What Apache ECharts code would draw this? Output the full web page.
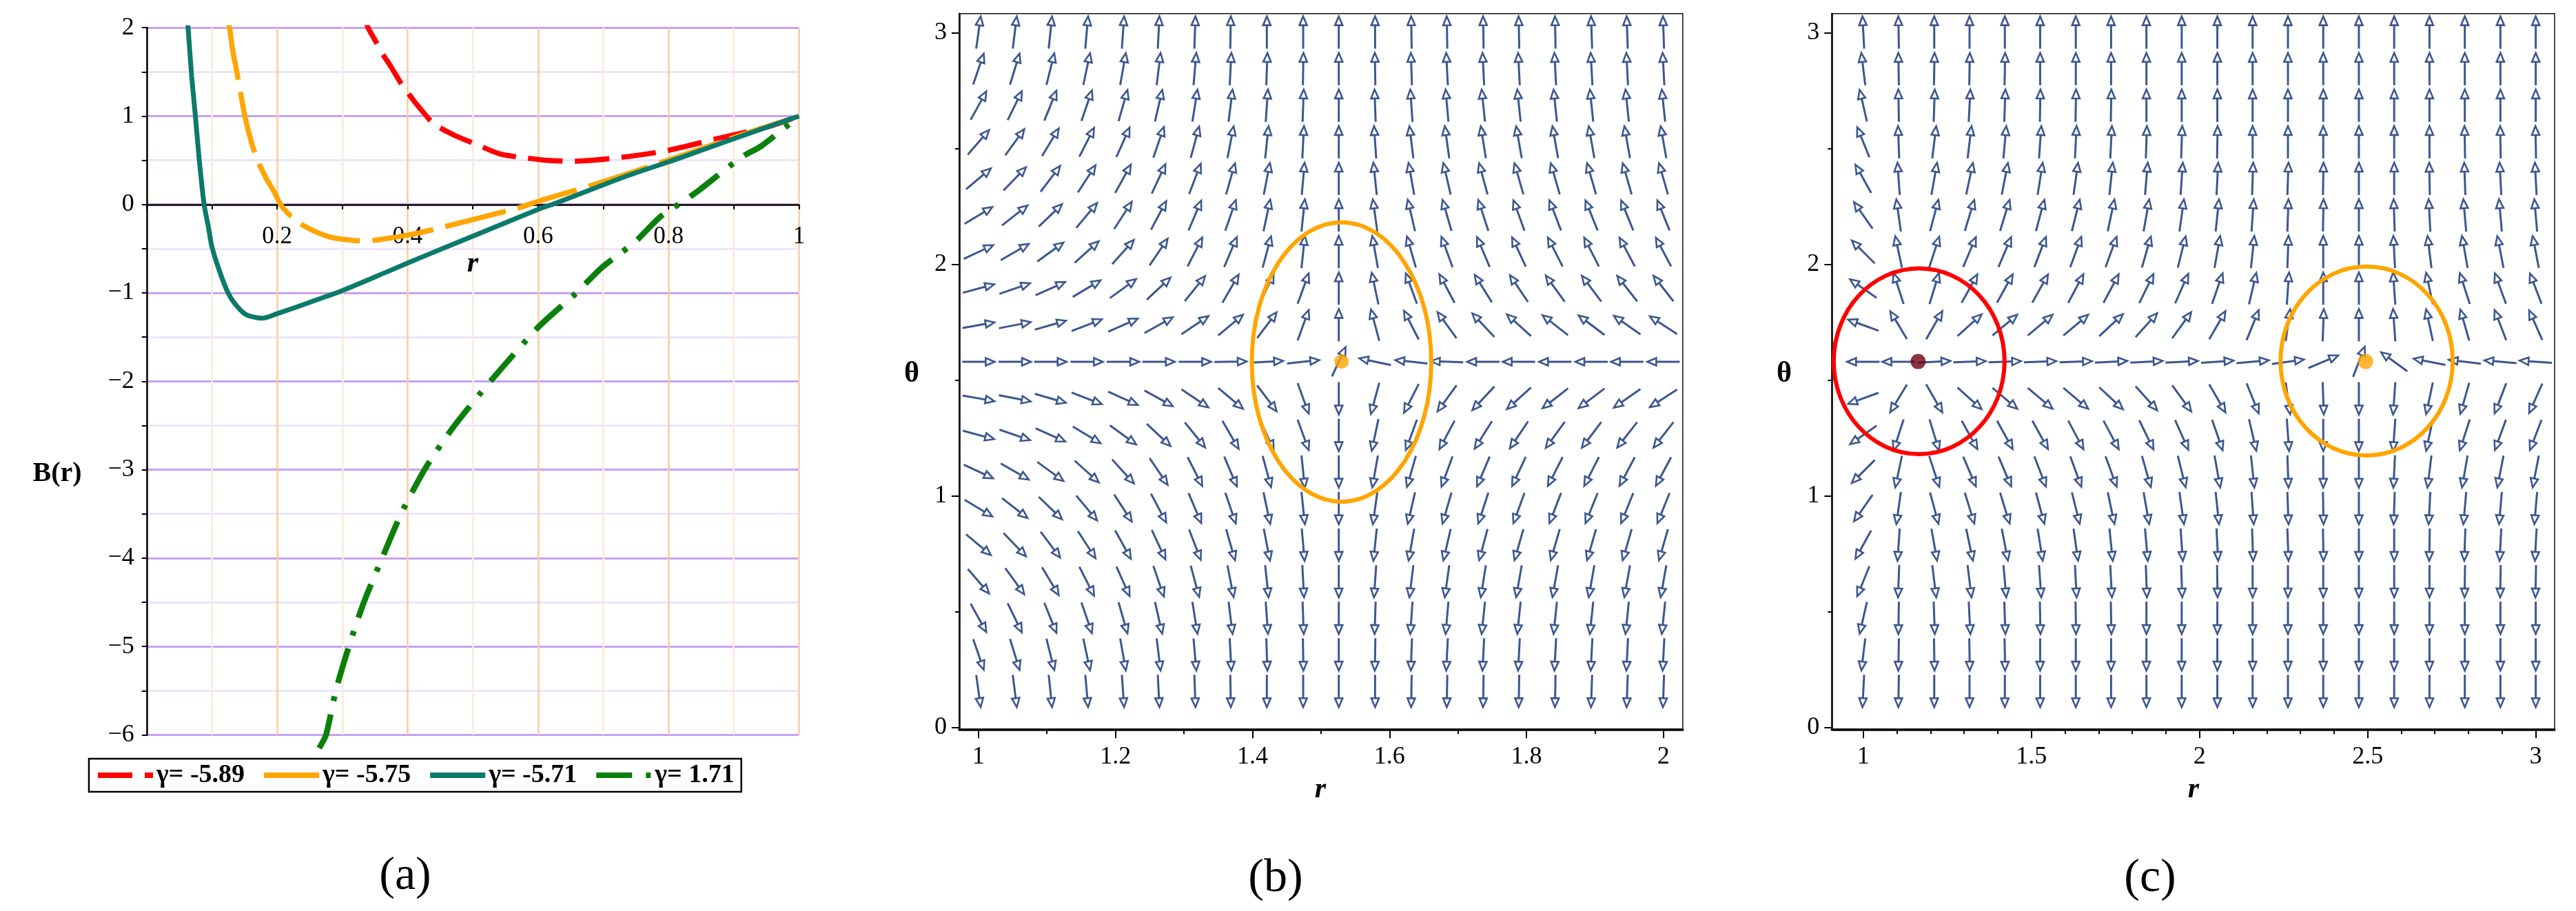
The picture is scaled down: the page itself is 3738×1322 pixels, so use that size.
<!DOCTYPE html>
<html><head><meta charset="utf-8">
<script src="https://cdn.jsdelivr.net/npm/echarts@6/dist/echarts.min.js"></script>
<style>html,body{margin:0;padding:0;background:#fff}#c{width:3738px;height:1322px}</style>
</head><body><div id="c"></div>
<script>
// ---------- Panel (a): B(r) curves ----------
const seriesNames = ['γ= -5.89', 'γ= -5.75', 'γ= -5.71', 'γ= 1.71'];
const redR = [0.331,0.3357,0.3393,0.35,0.362,0.3745,0.39,0.41,0.425,0.4404,0.473,0.5,0.5417,0.58,0.6145,0.651,0.712,0.7927,0.8738,0.9547,1.0];
const redB = [2.17,2.08,2.0,1.86,1.70,1.559,1.37,1.169,1.035,0.91,0.779,0.697,0.572,0.528,0.499,0.489,0.52,0.603,0.743,0.884,1.0];
const orangeR = [0.1235,0.127,0.132,0.1382,0.1506,0.16,0.17,0.183,0.1964,0.2053,0.218,0.2335,0.255,0.279,0.30,0.325,0.35,0.3675,0.392,0.43,0.5012,0.5699,0.6016,0.65,0.7117,0.817,0.9142,1.0];
const orangeB = [2.1,2.0,1.74,1.5,1.0,0.72,0.5,0.30,0.13,0.0,-0.11,-0.207,-0.295,-0.363,-0.392,-0.41,-0.403,-0.385,-0.358,-0.30,-0.168,-0.039,0.039,0.145,0.286,0.546,0.793,1.0];
const tealR = [0.0622,0.0635,0.069,0.0747,0.0807,0.0881,0.0945,0.1001,0.1125,0.1248,0.135,0.15,0.162,0.177,0.2,0.23,0.2758,0.3,0.3675,0.43,0.5012,0.6016,0.6267,0.732,0.817,0.914,1.0];
const tealB = [2.1,2.0,1.45,1.0,0.5,0.0,-0.25,-0.48,-0.77,-1.0,-1.12,-1.235,-1.27,-1.287,-1.235,-1.16,-1.039,-0.974,-0.765,-0.57,-0.355,-0.051,0.013,0.312,0.525,0.78,1.0];
const greenR = [0.2645,0.275,0.29,0.31,0.333,0.361,0.39,0.426,0.47,0.527,0.5983,0.6308,0.655,0.6956,0.72,0.748,0.7867,0.815,0.8434,0.886,0.9142,0.9426,1.0];
const greenB = [-6.15,-6.0,-5.5,-5.0,-4.5,-4.0,-3.5,-3.0,-2.52,-2.0,-1.403,-1.182,-1.026,-0.727,-0.585,-0.429,-0.143,0.0,0.143,0.39,0.546,0.663,1.0];

// ---------- Panels (b), (c): vector fields ----------
const thetaRows = [3.001,2.843,2.685,2.527,2.369,2.211,2.053,1.895,1.737,1.579,1.421,1.263,1.105,0.947,0.789,0.631,0.473,0.315,0.157];
const bCols = [1.000,1.053,1.105,1.158,1.211,1.263,1.316,1.368,1.421,1.474,1.526,1.579,1.632,1.684,1.737,1.789,1.842,1.895,1.947,2.000];
const cCols = [1.000,1.105,1.211,1.316,1.421,1.526,1.632,1.737,1.842,1.947,2.053,2.158,2.263,2.368,2.474,2.579,2.684,2.789,2.895,3.000];
// arrow directions in degrees (0 = pointing right, 90 = pointing up), rows from top to bottom
const bAngles = [
 [82,83,84,85,86,87,88,89,90,90,90,90,91,91,91,91,91,92,92,92],
 [71,73,76,78,80,83,85,87,88,89,90,91,92,93,93,93,93,93,93,93],
 [61,64,68,71,74,77,81,83,86,88,90,92,94,95,96,96,96,96,96,96],
 [49,54,59,63,66,71,75,79,84,87,90,94,97,98,99,100,100,100,100,100],
 [40,46,53,57,61,65,69,74,79,85,90,96,100,103,105,106,106,106,106,106],
 [31,38,44,50,57,62,67,71,78,84,90,98,103,106,108,110,111,112,112,112],
 [25,30,36,42,48,56,63,67,75,84,90,100,106,110,113,115,117,117,118,118],
 [15,19,24,31,36,43,51,60,65,70,90,102,110,118,122,124,126,127,128,128],
 [10,11,16,21,24,29,34,40,53,70,90,105,117,126,133,138,142,143,145,147],
 [0,0,0,0,0,0,0,1,3,6,65,168,174,178,180,180,180,180,180,180],
 [-10,-11,-16,-21,-24,-29,-34,-40,-53,-70,-90,-105,-117,-126,-133,-138,-142,-143,-145,-147],
 [-15,-19,-24,-31,-36,-43,-51,-60,-65,-70,-90,-102,-110,-118,-122,-124,-126,-127,-128,-128],
 [-25,-30,-36,-42,-48,-56,-63,-67,-75,-84,-90,-100,-106,-110,-113,-115,-117,-117,-118,-118],
 [-31,-38,-44,-50,-57,-62,-67,-71,-78,-84,-90,-98,-103,-106,-108,-110,-111,-112,-112,-112],
 [-40,-46,-53,-57,-61,-65,-69,-74,-79,-85,-90,-96,-100,-103,-105,-106,-106,-106,-106,-106],
 [-49,-54,-59,-63,-66,-71,-75,-79,-84,-87,-90,-94,-97,-98,-99,-100,-100,-100,-100,-100],
 [-61,-64,-68,-71,-74,-77,-81,-83,-86,-88,-90,-92,-94,-95,-96,-96,-96,-96,-96,-96],
 [-71,-73,-76,-78,-80,-83,-85,-87,-88,-89,-90,-91,-92,-93,-93,-93,-93,-93,-93,-93],
 [-82,-83,-84,-85,-86,-87,-88,-89,-90,-90,-90,-90,-91,-91,-91,-91,-91,-92,-92,-92]
];
const cAngles = [
 [93,91,90,90,90,90,90,90,90,90,90,90,90,90,90,90,90,90,90,90],
 [97,91,89,89,89,90,90,90,90,90,90,90,90,90,90,90,90,90,90,90],
 [103,91,88,87,88,89,89,89,90,90,90,90,90,90,90,90,90,90,90,90],
 [112,92,83,83,85,86,87,87,88,88,89,90,90,90,90,90,90,91,91,91],
 [119,94,80,78,79,81,82,84,85,86,87,88,88,89,90,90,91,92,93,93],
 [125,98,75,73,73,75,76,78,80,82,84,86,88,89,90,92,93,95,95,95],
 [135,102,72,67,67,69,70,70,74,76,80,84,88,90,90,93,97,100,101,101],
 [145,108,73,61,61,61,62,62,64,66,71,77,86,90,90,94,102,108,110,111],
 [160,121,60,42,40,40,40,43,48,54,60,68,82,88,90,94,102,106,111,114],
 [180,180,3,2,2,2,2,3,3,3,4,5,8,23,69,144,169,173,175,176],
 [-160,-121,-60,-42,-40,-40,-40,-43,-48,-54,-60,-68,-82,-88,-90,-94,-102,-106,-111,-114],
 [-145,-108,-73,-61,-61,-61,-62,-62,-64,-66,-71,-77,-86,-90,-90,-94,-102,-108,-110,-111],
 [-135,-102,-72,-67,-67,-69,-70,-70,-74,-76,-80,-84,-88,-90,-90,-93,-97,-100,-101,-101],
 [-125,-98,-75,-73,-73,-75,-76,-78,-80,-82,-84,-86,-88,-89,-90,-92,-93,-95,-95,-95],
 [-119,-94,-80,-78,-79,-81,-82,-84,-85,-86,-87,-88,-88,-89,-90,-90,-91,-92,-93,-93],
 [-112,-92,-83,-83,-85,-86,-87,-87,-88,-88,-89,-90,-90,-90,-90,-90,-90,-91,-91,-91],
 [-103,-91,-88,-87,-88,-89,-89,-89,-90,-90,-90,-90,-90,-90,-90,-90,-90,-90,-90,-90],
 [-97,-91,-89,-89,-89,-90,-90,-90,-90,-90,-90,-90,-90,-90,-90,-90,-90,-90,-90,-90],
 [-93,-91,-90,-90,-90,-90,-90,-90,-90,-90,-90,-90,-90,-90,-90,-90,-90,-90,-90,-90]
];
// zero points and their enclosing contours
const bZeroR = [1.53], bZeroT = [1.58];
const bLoopR = [1.53], bLoopT = [1.578], bLoopDR = [0.131], bLoopDT = [0.603];
const cZeroR = [1.163, 2.494], cZeroT = [1.58, 1.58];
const cLoopR = [1.166, 2.497], cLoopT = [1.581, 1.582], cLoopDR = [0.254, 0.256], cLoopDT = [0.401, 0.408];
// tick values
const bMajorTicks = [1, 1.2, 1.4, 1.6, 1.8, 2];
const bMinorTicks = [1.1, 1.3, 1.5, 1.7, 1.9];
const cMajorTicks = [1, 1.5, 2, 2.5, 3];
const cMinorTicks = [1.1,1.2,1.3,1.4,1.6,1.7,1.8,1.9,2.1,2.2,2.3,2.4,2.6,2.7,2.8,2.9];
const thetaMajorTicks = [0, 1, 2, 3];
const thetaMinorTicks = [0.5, 1.5, 2.5];

// ---------- styles ----------
const FONT = 'Liberation Serif';
const colors = ['#ff0000', '#ffa500', '#0b7a6b', '#0b800b'];
const dashes = [[50, 18], [90, 18], 'solid', [52, 20, 7, 20]];
const widths = [7.5, 7.5, 7, 8.5];
const arrowColor = '#3b5790';
const zip = (a, b) => a.map((v, i) => [v, b[i]]);

function arrowData(cols, rows, ang) {
  const out = [];
  for (let i = 0; i < rows.length; i++)
    for (let j = 0; j < cols.length; j++) out.push([cols[j], rows[i], ang[i][j]]);
  return out;
}
function renderArrow(params, api) {
  const c = api.coord([api.value(0), api.value(1)]);
  const a = api.value(2) * Math.PI / 180;
  const L = 47, hl = 13, hw = 5.5;
  const dx = Math.cos(a), dy = -Math.sin(a);
  const tail = [c[0] - dx * L / 2, c[1] - dy * L / 2];
  const tip = [c[0] + dx * L / 2, c[1] + dy * L / 2];
  const base = [tip[0] - dx * hl, tip[1] - dy * hl];
  const px = -dy, py = dx;
  return { type: 'group', children: [
    { type: 'line', shape: { x1: tail[0], y1: tail[1], x2: base[0], y2: base[1] },
      style: { stroke: arrowColor, lineWidth: 3 } },
    { type: 'polygon', shape: { points: [tip, [base[0] + px * hw, base[1] + py * hw], [base[0] - px * hw, base[1] - py * hw]] },
      style: { stroke: arrowColor, fill: '#fff', lineWidth: 2.6, lineJoin: 'miter' } }
  ]};
}
function renderLoop(params, api) {
  const c = api.coord([api.value(0), api.value(1)]);
  const s = api.size([api.value(2), api.value(3)]);
  return { type: 'ellipse', shape: { cx: c[0], cy: c[1], rx: s[0], ry: s[1] },
    style: { stroke: api.visual('color'), fill: 'none', lineWidth: 6 } };
}
function loopData(r, t, dr, dt, cols) {
  return r.map((v, i) => ({ value: [v, t[i], dr[i], dt[i]], itemStyle: { color: cols[i] } }));
}

const tickLabel = { fontFamily: FONT, fontSize: 36, color: '#000' };
function fieldXAxes(grid, min, max, major, minor) {
  return [
    { gridIndex: grid, type: 'value', min: min, max: max, position: 'bottom',
      axisLine: { show: true, onZero: false, lineStyle: { color: '#000', width: 3.5 } },
      axisTick: { show: true, customValues: major, length: 13, lineStyle: { color: '#000', width: 2 } },
      axisLabel: Object.assign({ customValues: major, margin: 22 }, tickLabel),
      splitLine: { show: false } },
    { gridIndex: grid, type: 'value', min: min, max: max, position: 'bottom',
      axisLine: { show: false, onZero: false },
      axisTick: { show: true, customValues: minor, length: 7, lineStyle: { color: '#000', width: 2 } },
      axisLabel: { show: false }, splitLine: { show: false } }
  ];
}
function fieldYAxes(grid) {
  return [
    { gridIndex: grid, type: 'value', min: -0.0083, max: 3.0824, position: 'left',
      axisLine: { show: true, onZero: false, lineStyle: { color: '#000', width: 2.5 } },
      axisTick: { show: true, customValues: thetaMajorTicks, length: 11, lineStyle: { color: '#000', width: 2 } },
      axisLabel: Object.assign({ customValues: thetaMajorTicks, margin: 18 }, tickLabel),
      splitLine: { show: false } },
    { gridIndex: grid, type: 'value', min: -0.0083, max: 3.0824, position: 'left',
      axisLine: { show: false, onZero: false },
      axisTick: { show: true, customValues: thetaMinorTicks, length: 6, lineStyle: { color: '#000', width: 2 } },
      axisLabel: { show: false }, splitLine: { show: false } }
  ];
}

const lineSeries = [[redR, redB], [orangeR, orangeB], [tealR, tealB], [greenR, greenB]].map((d, i) => ({
  name: seriesNames[i], type: 'line', xAxisIndex: 0, yAxisIndex: 0,
  data: zip(d[0], d[1]), showSymbol: false, symbol: 'none',
  smooth: 0.25, clip: i !== 3,
  color: colors[i],
  lineStyle: { color: colors[i], width: widths[i], type: dashes[i], cap: 'butt' },
  z: 5
}));

function txt(text, x, y, font) {
  return { type: 'text', x: x, y: y, z: 50,
    style: { text: text, font: font, fill: '#000', align: 'center', verticalAlign: 'middle' } };
}

// panel (a) geometry: y = 0 sits 769.65 px above the bottom of the plot box
const option = {
  animation: false,
  backgroundColor: '#fff',
  grid: [
    { left: 212.8, top: 40.2, width: 946.6, height: 1026.2 },
    { left: 1391.9, top: 19.8, width: 1049.9, height: 1038.5, show: true, borderColor: '#111', borderWidth: 1.5, backgroundColor: 'transparent' },
    { left: 2658.3, top: 19.8, width: 1048.6, height: 1038.5, show: true, borderColor: '#111', borderWidth: 1.5, backgroundColor: 'transparent' }
  ],
  xAxis: [
    { gridIndex: 0, type: 'value', min: 0, max: 1, interval: 0.2, position: 'bottom', offset: -769.65,
      axisLine: { show: true, onZero: false, lineStyle: { color: '#000', width: 2.5 } },
      axisTick: { show: true, length: 7, lineStyle: { color: '#000', width: 2 } },
      minorTick: { show: true, splitNumber: 2, length: 7, lineStyle: { color: '#000', width: 2 } },
      axisLabel: { fontFamily: FONT, fontSize: 35, color: '#000', margin: 30, verticalAlign: 'top',
        formatter: v => (v === 0 ? '' : String(+v.toFixed(1))) },
      splitLine: { show: true, lineStyle: { color: '#f7cda2', width: 2.5 } },
      minorSplitLine: { show: true, lineStyle: { color: '#fce9da', width: 2.5 } } },
    ...fieldXAxes(1, 0.9719, 2.0281, bMajorTicks, bMinorTicks),
    ...fieldXAxes(2, 0.9067, 3.056, cMajorTicks, cMinorTicks)
  ],
  yAxis: [
    { gridIndex: 0, type: 'value', min: -6, max: 2, interval: 1, position: 'left',
      axisLine: { show: true, onZero: false, lineStyle: { color: '#000', width: 2.5 } },
      axisTick: { show: true, length: 7, lineStyle: { color: '#000', width: 2 } },
      minorTick: { show: true, splitNumber: 2, length: 7, lineStyle: { color: '#000', width: 2 } },
      axisLabel: { fontFamily: FONT, fontSize: 36, color: '#000', margin: 18,
        formatter: v => (v < 0 ? '\u2212' + (-v) : String(v)) },
      splitLine: { show: true, lineStyle: { color: '#c8a0f0', width: 3 } },
      minorSplitLine: { show: true, lineStyle: { color: '#efe3fc', width: 3 } } },
    ...fieldYAxes(1),
    ...fieldYAxes(2)
  ],
  legend: {
    data: seriesNames, left: 129, top: 1101, orient: 'horizontal',
    itemWidth: 80, itemHeight: 12, itemGap: 24,
    padding: [5, 10, 5, 9], borderColor: '#000', borderWidth: 2.5, backgroundColor: '#fff',
    itemStyle: { opacity: 0 },
    lineStyle: { width: 8 },
    textStyle: { fontFamily: FONT, fontWeight: 'bold', fontSize: 38, color: '#000' }
  },
  series: [
    ...lineSeries,
    { type: 'custom', xAxisIndex: 1, yAxisIndex: 1, renderItem: renderArrow,
      data: arrowData(bCols, thetaRows, bAngles), z: 3, silent: true },
    { type: 'custom', xAxisIndex: 1, yAxisIndex: 1, renderItem: renderLoop,
      data: loopData(bLoopR, bLoopT, bLoopDR, bLoopDT, ['#ffa500']), z: 6, silent: true },
    { type: 'scatter', xAxisIndex: 1, yAxisIndex: 1, data: zip(bZeroR, bZeroT),
      symbolSize: 21, itemStyle: { color: '#ffa500' }, z: 7, silent: true },
    { type: 'custom', xAxisIndex: 3, yAxisIndex: 3, renderItem: renderArrow,
      data: arrowData(cCols, thetaRows, cAngles), z: 3, silent: true },
    { type: 'custom', xAxisIndex: 3, yAxisIndex: 3, renderItem: renderLoop,
      data: loopData(cLoopR, cLoopT, cLoopDR, cLoopDT, ['#ff0000', '#ffa500']), z: 6, silent: true },
    { type: 'scatter', xAxisIndex: 3, yAxisIndex: 3, data: zip(cZeroR, cZeroT),
      symbolSize: 22, itemStyle: { color: p => (p.dataIndex === 0 ? '#6e0012' : '#ffa500') }, z: 7, silent: true }
  ],
  graphic: [
    txt('(a)', 588, 1272, '68px "Liberation Serif"'),
    txt('(b)', 1851, 1275, '68px "Liberation Serif"'),
    txt('(c)', 3120, 1275, '68px "Liberation Serif"'),
    txt('B(r)', 83, 688, 'bold 40px "Liberation Serif"'),
    txt('r', 686, 383, 'italic bold 42px "Liberation Serif"'),
    txt('\u03b8', 1323, 543, 'bold 42px "Liberation Serif"'),
    txt('\u03b8', 2589, 543, 'bold 42px "Liberation Serif"'),
    txt('r', 1916, 1146, 'italic bold 42px "Liberation Serif"'),
    txt('r', 3183, 1146, 'italic bold 42px "Liberation Serif"')
  ]
};
const chart = echarts.init(document.getElementById('c'));
chart.setOption(option);
</script></body></html>
